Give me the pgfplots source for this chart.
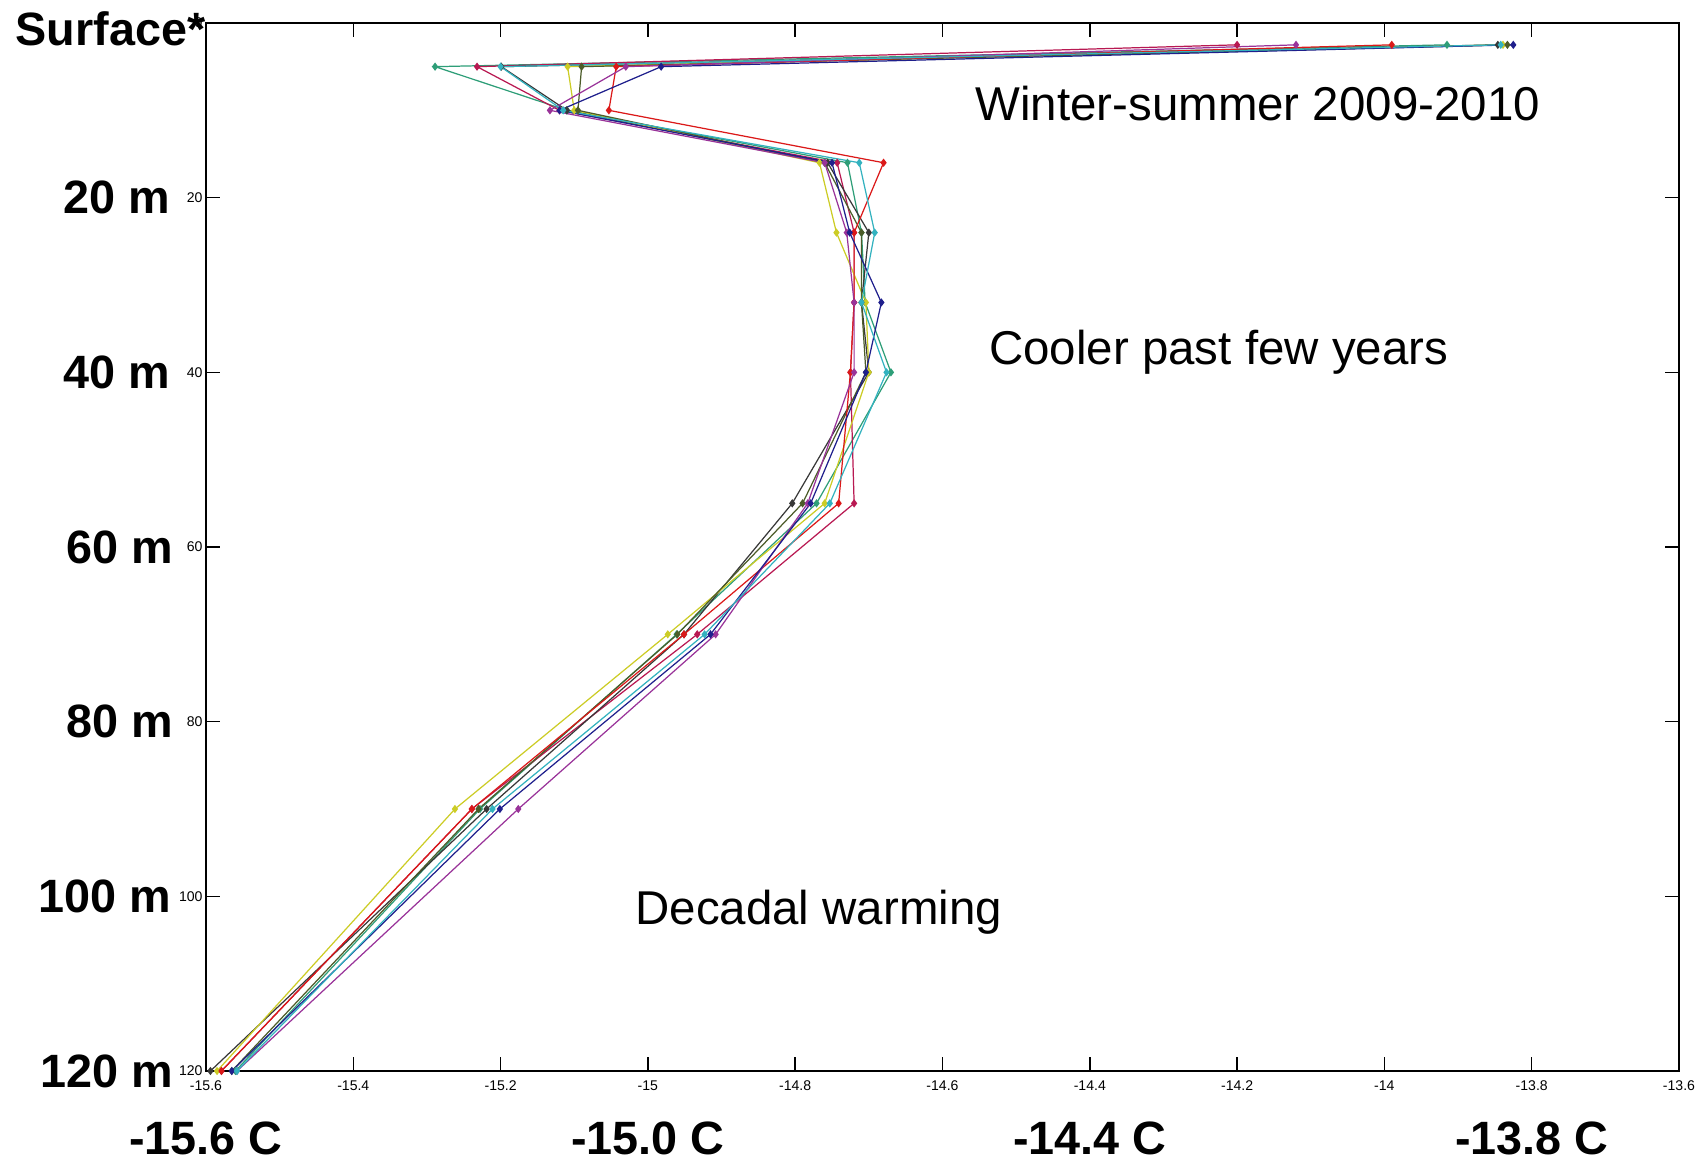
\documentclass[border=0pt]{standalone}
\usepackage{pgfplots}
\pgfplotsset{compat=1.18}
\usepackage{pgfplotstable}
\usepackage{fontspec}
\setmainfont{Liberation Sans}

\definecolor{cA}{rgb}{0.18,0.62,0.47}
\definecolor{cB}{rgb}{0.72,0.10,0.32}
\definecolor{cC}{rgb}{0.22,0.22,0.22}
\definecolor{cD}{rgb}{0.80,0.80,0.15}
\definecolor{cE}{rgb}{0.30,0.36,0.16}
\definecolor{cF}{rgb}{0.86,0.10,0.10}
\definecolor{cG}{rgb}{0.60,0.20,0.60}
\definecolor{cH}{rgb}{0.12,0.12,0.55}
\definecolor{cI}{rgb}{0.20,0.70,0.75}

\pgfplotstableread{
depth A       B       C       D       E       F       G       H       I
2.5   -13.915 -14.200 -13.846 -13.839 -13.833 -13.990 -14.120 -13.825 -13.842
5     -15.289 -15.232 -15.199 -15.109 -15.090 -15.043 -15.030 -14.982 -15.200
10    -15.110 -15.120 -15.110 -15.100 -15.095 -15.053 -15.133 -15.120 -15.115
16    -14.729 -14.743 -14.756 -14.767 -14.760 -14.680 -14.760 -14.750 -14.713
24    -14.710 -14.720 -14.700 -14.744 -14.710 -14.720 -14.730 -14.726 -14.692
32    -14.705 -14.720 -14.710 -14.704 -14.710 -14.720 -14.720 -14.683 -14.710
40    -14.670 -14.725 -14.700 -14.700 -14.704 -14.725 -14.720 -14.704 -14.676
55    -14.771 -14.720 -14.804 -14.760 -14.790 -14.741 -14.783 -14.779 -14.753
70    -14.961 -14.933 -14.951 -14.973 -14.960 -14.951 -14.908 -14.915 -14.923
90    -15.228 -15.239 -15.219 -15.262 -15.230 -15.239 -15.176 -15.201 -15.211
120   -15.560 -15.579 -15.594 -15.585 -15.565 -15.579 -15.558 -15.565 -15.558
}\profiles

\begin{document}
\begin{tikzpicture}
\path[use as bounding box] (-20.6mm,-9mm) rectangle (149.7mm,107.1mm);
\begin{axis}[
  scale only axis, width=147.3mm, height=104.8mm,
  xmin=-15.6, xmax=-13.6, ymin=0, ymax=120, y dir=reverse,
  xtick={-15.6,-15.4,-15.2,-15,-14.8,-14.6,-14.4,-14.2,-14,-13.8,-13.6},
  xticklabels={-15.6,-15.4,-15.2,-15,-14.8,-14.6,-14.4,-14.2,-14,-13.8,-13.6},
  ytick={0,20,40,60,80,100,120},
  tick align=inside, major tick length=1.4mm,
  every tick/.style={line width=0.4pt, black},
  axis line style={line width=0.5pt},
  tick label style={font=\fontsize{4}{4}\selectfont, inner sep=0.8pt},
  /pgf/number format/assume math mode=true,
  xticklabel style={yshift=-0.6mm},
  clip=false,
  every axis plot/.append style={line width=0.35pt, mark=diamond*, mark size=0.9pt},
]
\addplot[cA] table[x=A, y=depth] {\profiles};
\addplot[cB] table[x=B, y=depth] {\profiles};
\addplot[cC] table[x=C, y=depth] {\profiles};
\addplot[cD] table[x=D, y=depth] {\profiles};
\addplot[cE] table[x=E, y=depth] {\profiles};
\addplot[cF] table[x=F, y=depth] {\profiles};
\addplot[cG] table[x=G, y=depth] {\profiles};
\addplot[cH] table[x=H, y=depth] {\profiles};
\addplot[cI] table[x=I, y=depth] {\profiles};

% left labels
\node[anchor=east, inner sep=0pt, font=\fontsize{13.3}{14}\selectfont\bfseries, yshift=-0.6mm] at (axis cs:-15.6,0) {Surface*};
\node[anchor=east, inner sep=0pt, font=\fontsize{13.3}{14}\selectfont\bfseries, xshift=-3.55mm] at (axis cs:-15.6,20) {20 m};
\node[anchor=east, inner sep=0pt, font=\fontsize{13.3}{14}\selectfont\bfseries, xshift=-3.55mm] at (axis cs:-15.6,40) {40 m};
\node[anchor=east, inner sep=0pt, font=\fontsize{13.3}{14}\selectfont\bfseries, xshift=-3.2mm] at (axis cs:-15.6,60) {60 m};
\node[anchor=east, inner sep=0pt, font=\fontsize{13.3}{14}\selectfont\bfseries, xshift=-3.2mm] at (axis cs:-15.6,80) {80 m};
\node[anchor=east, inner sep=0pt, font=\fontsize{13.3}{14}\selectfont\bfseries, xshift=-3.4mm] at (axis cs:-15.6,100) {100 m};
\node[anchor=east, inner sep=0pt, font=\fontsize{13.3}{14}\selectfont\bfseries, xshift=-3.2mm] at (axis cs:-15.6,120) {120 m};
% bottom labels
\node[inner sep=0pt, font=\fontsize{13.3}{14}\selectfont\bfseries, yshift=-6.7mm] at (axis cs:-15.6,120) {-15.6 C};
\node[inner sep=0pt, font=\fontsize{13.3}{14}\selectfont\bfseries, yshift=-6.7mm] at (axis cs:-15.0,120) {-15.0 C};
\node[inner sep=0pt, font=\fontsize{13.3}{14}\selectfont\bfseries, yshift=-6.7mm] at (axis cs:-14.4,120) {-14.4 C};
\node[inner sep=0pt, font=\fontsize{13.3}{14}\selectfont\bfseries, yshift=-6.7mm] at (axis cs:-13.8,120) {-13.8 C};
% annotations
\node[anchor=base, inner sep=0pt, font=\fontsize{13.5}{14}\selectfont] at (axis cs:-14.172,11.2) {Winter-summer 2009-2010};
\node[anchor=base, inner sep=0pt, font=\fontsize{13.5}{14}\selectfont] at (axis cs:-14.225,39.1) {Cooler past few years};
\node[anchor=base, inner sep=0pt, font=\fontsize{13.5}{14}\selectfont] at (axis cs:-14.768,103.2) {Decadal warming};
\end{axis}
\end{tikzpicture}
\end{document}
